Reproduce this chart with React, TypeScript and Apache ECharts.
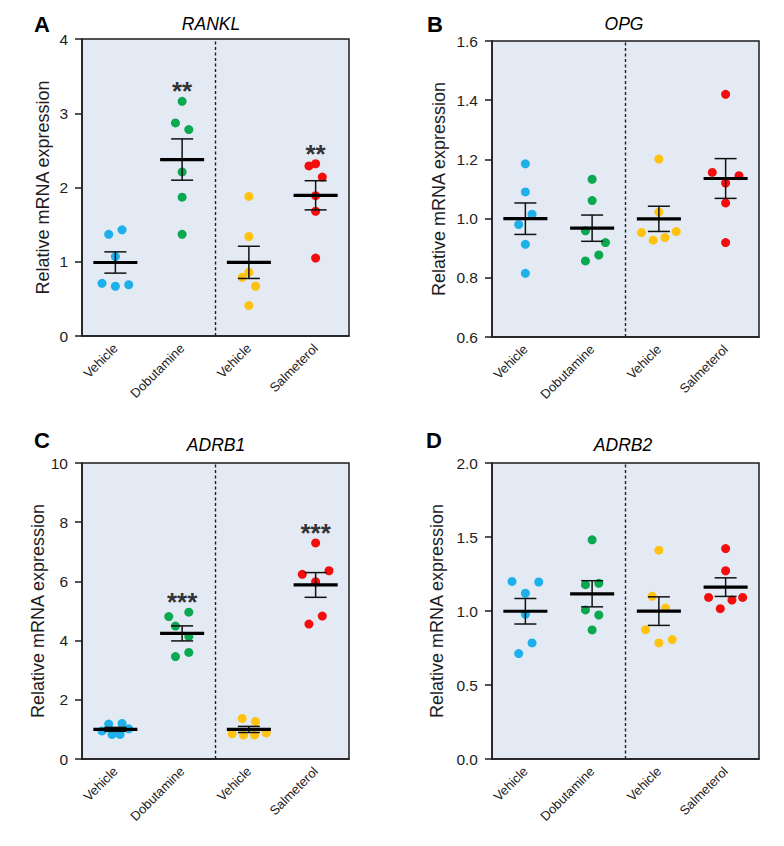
import React, { useEffect, useRef } from 'react';
import * as echarts from 'echarts';

// ---------------- data ----------------
const categories = ['Vehicle', 'Dobutamine', 'Vehicle', 'Salmeterol'];
const genes = ['RANKL', 'OPG', 'ADRB1', 'ADRB2'];
const panelLetters = ['A', 'B', 'C', 'D'];

// values per group: Vehicle, Dobutamine, Vehicle, Salmeterol
const ranklValues = [
  [1.43, 1.37, 1.07, 0.71, 0.67, 0.69],
  [3.16, 2.87, 2.78, 2.21, 1.87, 1.37],
  [1.88, 1.34, 0.86, 0.79, 0.67, 0.41],
  [2.32, 2.29, 2.14, 1.89, 1.68, 1.05],
];
const ranklJitter = [
  [0.1, -0.1, 0, -0.2, 0, 0.2],
  [0, -0.1, 0.1, 0, 0, 0],
  [0, 0, 0, -0.1, 0.1, 0],
  [0, -0.1, 0.1, 0, 0, 0],
];
const ranklStars = ['', '**', '', '**'];

const opgValues = [
  [1.185, 1.09, 1.015, 0.98, 0.913, 0.815],
  [1.133, 1.061, 0.959, 0.919, 0.877, 0.857],
  [1.201, 1.022, 0.953, 0.956, 0.927, 0.936],
  [1.42, 1.156, 1.145, 1.12, 1.053, 0.919],
];
const opgJitter = [
  [0, 0, 0.1, -0.1, 0, 0],
  [0, 0, -0.1, 0.2, 0.1, -0.1],
  [0, 0, -0.26, 0.26, -0.085, 0.09],
  [0, -0.2, 0.2, 0, 0, 0],
];
const opgStars = ['', '', '', ''];

const adrb1Values = [
  [1.18, 1.2, 1.02, 0.95, 0.83, 0.83],
  [4.96, 4.81, 4.49, 4.14, 3.6, 3.46],
  [1.37, 1.27, 0.88, 0.85, 0.81, 0.81],
  [7.3, 6.36, 6.24, 5.99, 4.83, 4.56],
];
const adrb1Jitter = [
  [-0.1, 0.1, 0.2, -0.2, -0.05, 0.07],
  [0.1, -0.2, -0.1, 0.1, 0.1, -0.1],
  [-0.1, 0.1, 0.26, -0.25, -0.08, 0.085],
  [0, 0.2, -0.2, 0, 0.1, -0.1],
];
const adrb1Stars = ['', '***', '', '***'];

const adrb2Values = [
  [1.2, 1.196, 1.12, 0.978, 0.784, 0.712],
  [1.481, 1.187, 1.178, 1.007, 0.973, 0.872],
  [1.411, 1.099, 1.02, 0.874, 0.807, 0.784],
  [1.422, 1.272, 1.092, 1.092, 1.074, 1.016],
];
const adrb2Jitter = [
  [-0.2, 0.2, 0, 0, 0.1, -0.1],
  [0, 0.1, -0.1, -0.1, 0.1, 0],
  [0, -0.1, 0.1, -0.2, 0.2, 0],
  [0, 0, -0.255, 0.255, 0.095, -0.08],
];
const adrb2Stars = ['', '', '', ''];

const yMins = [0, 0.6, 0, 0];
const yMaxs = [4, 1.6, 10, 2];
const yIntervals = [1, 0.2, 2, 0.5];
const yDecimals = [0, 1, 0, 1];

// ---------------- styles / layout ----------------
const panelValues = [ranklValues, opgValues, adrb1Values, adrb2Values];
const panelJitter = [ranklJitter, opgJitter, adrb1Jitter, adrb2Jitter];
const panelStars = [ranklStars, opgStars, adrb1Stars, adrb2Stars];

const groupColors = ['#1db0ea', '#0aa84f', '#ffc20e', '#f50d0d'];
const INK = '#1d1d1f';
const FONT = 'Liberation Sans, Arial, Helvetica, sans-serif';

const grids = [
  { left: 82, top: 39, width: 267, height: 297 },
  { left: 492, top: 41, width: 267, height: 296 },
  { left: 82, top: 463, width: 267, height: 296 },
  { left: 492, top: 463, width: 267, height: 296 },
];
const nameGaps = [30, 44, 32, 46];
const letterPos = [[34, 24], [427, 24], [34, 440], [426, 440]];
const titlePos = [[211, 24], [624, 24], [216, 444.5], [623, 444.5]];

function meanSem(arr: number[]) {
  const n = arr.length;
  const m = arr.reduce((a, b) => a + b, 0) / n;
  const v = arr.reduce((a, b) => a + (b - m) * (b - m), 0) / (n - 1);
  return [m, Math.sqrt(v) / Math.sqrt(n)];
}

function buildOption() {
  const grid: any[] = [];
  const xAxis: any[] = [];
  const yAxis: any[] = [];
  const series: any[] = [];
  const graphic: any[] = [];

  for (let p = 0; p < 4; p++) {
    grid.push({
      ...grids[p],
      show: true,
      backgroundColor: '#e3eaf4',
      borderColor: INK,
      borderWidth: 1.5,
      containLabel: false,
    });
    xAxis.push({
      type: 'category',
      gridIndex: p,
      data: categories,
      boundaryGap: true,
      axisLine: { lineStyle: { color: INK, width: 1.5 } },
      axisTick: { alignWithLabel: true, length: 7, lineStyle: { color: INK, width: 1.5 } },
      axisLabel: {
        rotate: 45,
        interval: 0,
        fontSize: 13,
        margin: 10,
        color: INK,
        fontFamily: FONT,
      },
      splitLine: { show: false },
    });
    xAxis.push({
      type: 'value',
      gridIndex: p,
      min: 0,
      max: 4,
      show: false,
      splitLine: { show: false },
    });
    const dec = yDecimals[p];
    yAxis.push({
      type: 'value',
      gridIndex: p,
      min: yMins[p],
      max: yMaxs[p],
      interval: yIntervals[p],
      axisLine: { show: true, lineStyle: { color: INK, width: 1.5 } },
      axisTick: { show: true, length: 7, lineStyle: { color: INK, width: 1.5 } },
      splitLine: { show: false },
      axisLabel: {
        fontSize: 15.5,
        margin: 14,
        color: INK,
        fontFamily: FONT,
        formatter: (v: number) => v.toFixed(dec),
      },
      name: 'Relative mRNA expression',
      nameLocation: 'middle',
      nameGap: nameGaps[p],
      nameTextStyle: { fontSize: 18, color: INK, fontFamily: FONT },
    });

    const vals = panelValues[p];
    const jit = panelJitter[p];
    for (let g = 0; g < 4; g++) {
      series.push({
        type: 'scatter',
        xAxisIndex: p * 2 + 1,
        yAxisIndex: p,
        symbol: 'circle',
        symbolSize: 9,
        itemStyle: { color: groupColors[g], opacity: 1 },
        data: vals[g].map((v, k) => [g + 0.5 + jit[g][k], v]),
        z: 2,
      });
    }

    // mean ± SEM
    series.push({
      type: 'custom',
      xAxisIndex: p * 2 + 1,
      yAxisIndex: p,
      z: 5,
      encode: { x: 0, y: 1 },
      data: vals.map((arr, g) => {
        const [m, s] = meanSem(arr);
        return [g + 0.5, m, s];
      }),
      renderItem: (params: any, api: any) => {
        const x = api.value(0);
        const m = api.value(1);
        const s = api.value(2);
        const c = api.coord([x, m]);
        const t = api.coord([x, m + s]);
        const b = api.coord([x, m - s]);
        const hm = api.size([0.33, 0])[0];
        const hc = api.size([0.165, 0])[0];
        const thin = { stroke: '#111', lineWidth: 1.5 };
        return {
          type: 'group',
          children: [
            { type: 'line', shape: { x1: t[0], y1: t[1], x2: b[0], y2: b[1] }, style: thin },
            { type: 'line', shape: { x1: t[0] - hc, y1: t[1], x2: t[0] + hc, y2: t[1] }, style: thin },
            { type: 'line', shape: { x1: b[0] - hc, y1: b[1], x2: b[0] + hc, y2: b[1] }, style: thin },
            {
              type: 'line',
              shape: { x1: c[0] - hm, y1: c[1], x2: c[0] + hm, y2: c[1] },
              style: { stroke: '#000', lineWidth: 3.2 },
            },
          ],
        };
      },
    });

    // significance stars + divider
    const stars = panelStars[p];
    series.push({
      type: 'scatter',
      xAxisIndex: p * 2 + 1,
      yAxisIndex: p,
      symbol: 'circle',
      symbolSize: 0.1,
      itemStyle: { color: 'transparent' },
      z: 6,
      silent: true,
      data: vals
        .map((arr, g) => [g + 0.5, Math.max(...arr), stars[g]])
        .filter((d) => d[2] !== ''),
      label: {
        show: true,
        position: 'inside',
        offset: [0, -10],
        formatter: (pp: any) => pp.data[2],
        fontSize: 26,
        fontWeight: 'bold',
        color: '#000',
        fontFamily: FONT,
      },
      markLine: {
        silent: true,
        symbol: ['none', 'none'],
        label: { show: false },
        lineStyle: { color: INK, width: 1.4, type: [3, 2.5] },
        data: [{ xAxis: 2 }],
      },
    });

    graphic.push({
      type: 'text',
      x: letterPos[p][0],
      y: letterPos[p][1],
      style: {
        text: panelLetters[p],
        font: `bold 22px ${FONT}`,
        fill: '#000',
        align: 'left',
        verticalAlign: 'middle',
      },
    });
    graphic.push({
      type: 'text',
      x: titlePos[p][0],
      y: titlePos[p][1],
      style: {
        text: genes[p],
        font: `italic 17.5px ${FONT}`,
        fill: '#000',
        align: 'center',
        verticalAlign: 'middle',
      },
    });
  }

  return {
    animation: false,
    backgroundColor: '#ffffff',
    textStyle: { fontFamily: FONT },
    grid,
    xAxis,
    yAxis,
    series,
    graphic,
  };
}

export default function App() {
  const ref = useRef<HTMLDivElement>(null);
  useEffect(() => {
    if (!ref.current) return;
    const chart = echarts.init(ref.current, undefined, { renderer: 'svg' });
    chart.setOption(buildOption() as any);
    return () => chart.dispose();
  }, []);
  return (
    <div
      ref={ref}
      style={{ position: 'fixed', left: 0, top: 0, width: 784, height: 846 }}
    />
  );
}
